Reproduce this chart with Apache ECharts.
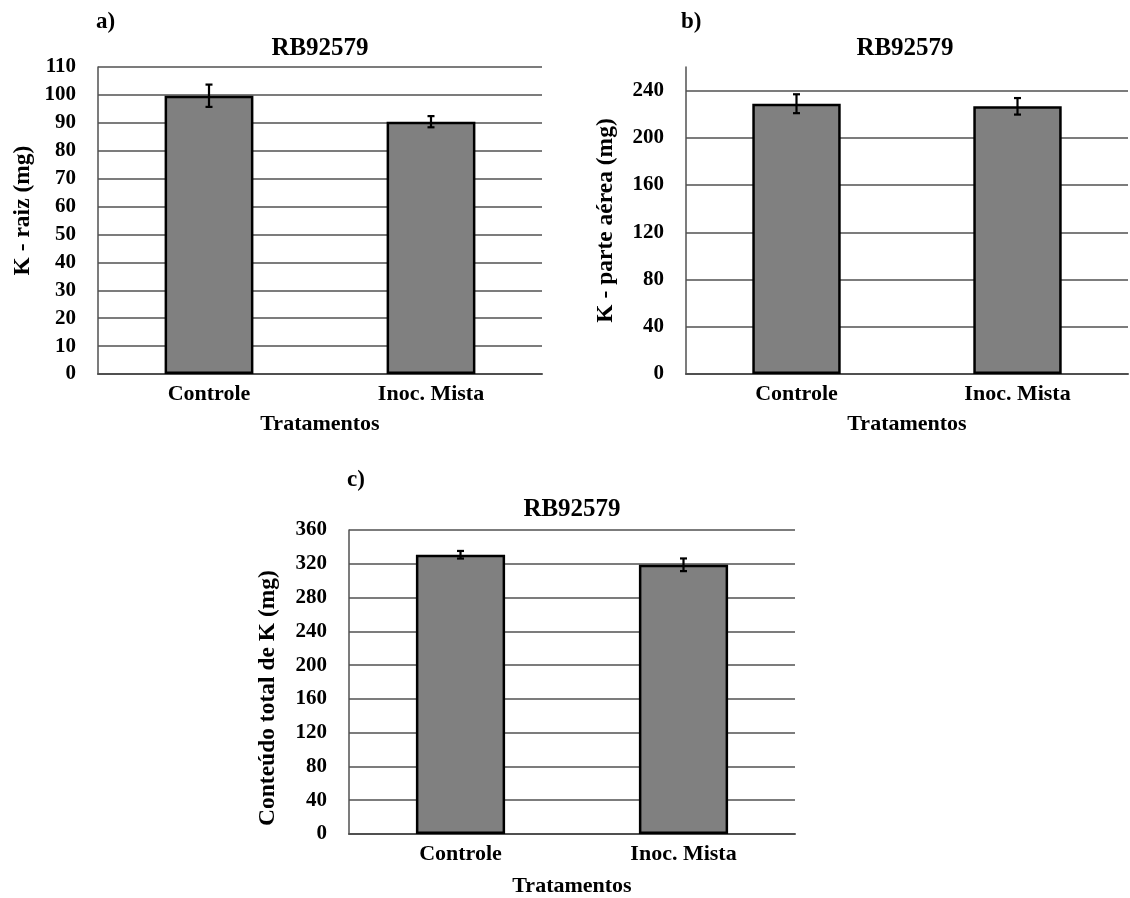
<!DOCTYPE html>
<html>
<head>
<meta charset="utf-8">
<script src="https://cdn.jsdelivr.net/npm/echarts@6/dist/echarts.min.js"></script>
<style>
  html, body { margin: 0; padding: 0; background: #fff; }
  #chart { width: 1130px; height: 898px; }
</style>
</head>
<body>
<div id="chart"></div>
<script>
// Treatments shared by the three panels
const categories = ['Controle', 'Inoc. Mista'];

// a) K in roots (mg): means and standard errors
const raizMean = [99.7, 90.4];
const raizErr = [4.0, 2.0];

// b) K in shoots (mg)
const aereaMean = [228.9, 226.7];
const aereaErr = [8.0, 7.0];

// c) Total K content (mg)
const totalMean = [330.7, 318.8];
const totalErr = [4.5, 7.5];

// Axis ticks for each panel
const raizTicks = { min: 0, max: 110, interval: 10 };
const aereaTicks = { min: 0, max: 260, interval: 40 };
const totalTicks = { min: 0, max: 360, interval: 40 };

const FONT = "'Liberation Serif', 'Times New Roman', serif";
const GRID_COLOR = '#505050';

const grids = [
  { left: 98, top: 67, width: 444, height: 307 },
  { left: 686, top: 67, width: 442, height: 307 },
  { left: 349, top: 530, width: 446, height: 307 }
];

function xAxisFor(gridIndex, nameGap) {
  return {
    type: 'category',
    gridIndex: gridIndex,
    data: categories,
    name: 'Tratamentos',
    nameLocation: 'middle',
    nameGap: nameGap,
    nameTextStyle: { fontFamily: FONT, fontWeight: 'bold', fontSize: 22, color: '#000' },
    axisLine: { show: true, lineStyle: { color: GRID_COLOR, width: 2 } },
    axisTick: { show: false },
    axisLabel: { margin: 9, fontFamily: FONT, fontWeight: 'bold', fontSize: 22, color: '#000' },
    splitLine: { show: false }
  };
}

function yAxisFor(gridIndex, ticks, name, nameGap, namePadding, showMax) {
  return {
    type: 'value',
    gridIndex: gridIndex,
    min: ticks.min,
    max: ticks.max,
    interval: ticks.interval,
    name: name,
    nameLocation: 'middle',
    nameGap: nameGap,
    nameRotate: 90,
    nameTextStyle: { fontFamily: FONT, fontWeight: 'bold', fontSize: 23.5, color: '#000', padding: namePadding },
    axisLine: { show: true, lineStyle: { color: GRID_COLOR, width: 1.5 } },
    axisTick: { show: false },
    axisLabel: { margin: 22, fontFamily: FONT, fontWeight: 'bold', fontSize: 21, color: '#000', showMaxLabel: showMax },
    splitLine: { show: true, showMaxLine: showMax, lineStyle: { color: GRID_COLOR, width: 1.5 } }
  };
}

function barSeries(idx, values) {
  return {
    type: 'bar',
    xAxisIndex: idx,
    yAxisIndex: idx,
    data: values,
    barWidth: '40%',
    itemStyle: { color: '#808080', borderColor: '#000', borderWidth: 2.5 },
    z: 2
  };
}

// Error bars: vertical whisker with short caps, from mean - err to mean + err
function errorSeries(idx, means, errs) {
  const data = means.map((m, i) => [i, m - errs[i], m + errs[i]]);
  return {
    type: 'custom',
    xAxisIndex: idx,
    yAxisIndex: idx,
    data: data,
    encode: { x: 0, y: [1, 2] },
    z: 5,
    renderItem: function (params, api) {
      const lo = api.coord([api.value(0), api.value(1)]);
      const hi = api.coord([api.value(0), api.value(2)]);
      const cap = 3.5;
      const style = { stroke: '#000', lineWidth: 2.2 };
      return {
        type: 'group',
        children: [
          { type: 'line', shape: { x1: hi[0], y1: hi[1], x2: lo[0], y2: lo[1] }, style: style },
          { type: 'line', shape: { x1: hi[0] - cap, y1: hi[1], x2: hi[0] + cap, y2: hi[1] }, style: style },
          { type: 'line', shape: { x1: lo[0] - cap, y1: lo[1], x2: lo[0] + cap, y2: lo[1] }, style: style }
        ]
      };
    }
  };
}

function titleAt(text, left, top, size) {
  return {
    text: text,
    left: left,
    top: top,
    padding: 0,
    textAlign: 'center',
    textStyle: { fontFamily: FONT, fontWeight: 'bold', fontSize: size, color: '#000' }
  };
}

function panelLetter(text, left, top) {
  return {
    text: text,
    left: left,
    top: top,
    padding: 0,
    textStyle: { fontFamily: FONT, fontWeight: 'bold', fontSize: 23, color: '#000' }
  };
}

const chart = echarts.init(document.getElementById('chart'), null, { renderer: 'canvas' });

chart.setOption({
  animation: false,
  backgroundColor: '#fff',
  title: [
    panelLetter('a)', 96, 11),
    panelLetter('b)', 681, 11),
    panelLetter('c)', 347, 469),
    titleAt('RB92579', 320, 36, 25),
    titleAt('RB92579', 905, 36, 25),
    titleAt('RB92579', 572, 497, 25)
  ],
  grid: grids,
  xAxis: [xAxisFor(0, 39), xAxisFor(1, 39), xAxisFor(2, 41)],
  yAxis: [
    yAxisFor(0, raizTicks, 'K - raiz (mg)', 63, [0, 0, 0, 20], true),
    yAxisFor(1, aereaTicks, 'K - parte aérea (mg)', 68, [0, 0, 0, 0], false),
    yAxisFor(2, totalTicks, 'Conteúdo total de K (mg)', 69, [0, 32, 0, 0], true)
  ],
  series: [
    barSeries(0, raizMean),
    barSeries(1, aereaMean),
    barSeries(2, totalMean),
    errorSeries(0, raizMean, raizErr),
    errorSeries(1, aereaMean, aereaErr),
    errorSeries(2, totalMean, totalErr)
  ]
});
</script>
</body>
</html>
